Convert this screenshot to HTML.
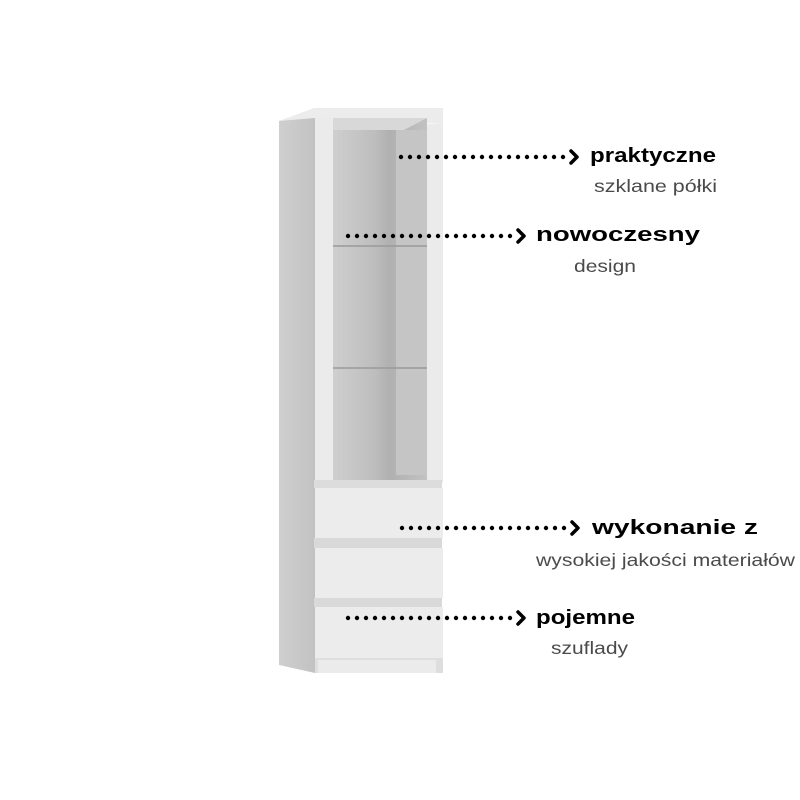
<!DOCTYPE html>
<html><head><meta charset="utf-8"><style>
html,body{margin:0;padding:0;background:#fff;width:800px;height:800px;overflow:hidden}
</style></head><body>
<svg width="800" height="800" viewBox="0 0 800 800" xmlns="http://www.w3.org/2000/svg">
<defs>
<linearGradient id="side" x1="0" x2="1" y1="0" y2="0"><stop offset="0" stop-color="#cfcfcf"/><stop offset="1" stop-color="#c2c2c2"/></linearGradient>
<linearGradient id="inner" x1="0" x2="1" y1="0" y2="0"><stop offset="0" stop-color="#cfcfcf"/><stop offset="0.45" stop-color="#bdbdbd"/><stop offset="0.6" stop-color="#b0b0b0"/><stop offset="1" stop-color="#c2c2c2"/></linearGradient>
</defs>
<rect width="800" height="800" fill="#fff"/>
<polygon points="279,121 315,110 315,673 279,665" fill="url(#side)"/>
<polygon points="279,121 314,108 443,108 443,124 315,118" fill="#ececec"/>
<rect x="333" y="118" width="94" height="362" fill="url(#inner)"/>
<polygon points="333,118 427,118 404,130 333,130" fill="#d8d8d8"/>
<rect x="396" y="130" width="31" height="345" fill="#c5c5c5"/>
<line x1="333" y1="246" x2="427" y2="246" stroke="#9a9a9a" stroke-width="1.5"/>
<line x1="333" y1="368" x2="427" y2="368" stroke="#9a9a9a" stroke-width="1.5"/>
<rect x="315" y="117" width="18" height="366" fill="#ebebeb"/>
<rect x="427" y="124" width="16" height="359" fill="#ebebeb"/>
<rect x="314" y="480" width="128" height="8" fill="#dcdcdc"/>
<rect x="315" y="488" width="128" height="50" fill="#ececec"/>
<rect x="314" y="538" width="128" height="10" fill="#d9d9d9"/>
<rect x="315" y="548" width="128" height="50" fill="#ececec"/>
<rect x="314" y="598" width="128" height="9" fill="#d9d9d9"/>
<rect x="315" y="607" width="128" height="51" fill="#ececec"/>
<rect x="315" y="658" width="128" height="15" fill="#dedede"/>
<rect x="318" y="660" width="118" height="13" fill="#ebebeb"/>
<g stroke="#000" stroke-width="4.4" stroke-linecap="round" fill="none">
<line x1="401" y1="157" x2="565" y2="157" stroke-dasharray="0 9"/>
<line x1="348" y1="236" x2="512" y2="236" stroke-dasharray="0 9"/>
<line x1="402" y1="528" x2="566" y2="528" stroke-dasharray="0 9"/>
<line x1="348" y1="618" x2="512" y2="618" stroke-dasharray="0 9"/>
</g>
<g stroke="#000" stroke-width="3.5" stroke-linecap="round" stroke-linejoin="round" fill="none">
<polyline points="571,151 577,157 571,163"/>
<polyline points="518,230 524,236 518,242"/>
<polyline points="572,522 578,528 572,534"/>
<polyline points="518,612 524,618 518,624"/>
</g>
<g font-family="'Liberation Sans', sans-serif">
<text x="590" y="162" font-size="20" font-weight="bold" textLength="126" lengthAdjust="spacingAndGlyphs">praktyczne</text>
<text x="594" y="192" font-size="17.5" fill="#4a4a4a" textLength="123" lengthAdjust="spacingAndGlyphs">szklane półki</text>
<text x="536" y="241" font-size="20" font-weight="bold" textLength="164" lengthAdjust="spacingAndGlyphs">nowoczesny</text>
<text x="574" y="272" font-size="17.5" fill="#4a4a4a" textLength="62" lengthAdjust="spacingAndGlyphs">design</text>
<text x="592" y="534" font-size="20" font-weight="bold" textLength="166" lengthAdjust="spacingAndGlyphs">wykonanie z</text>
<text x="536" y="566" font-size="17.5" fill="#4a4a4a" textLength="259" lengthAdjust="spacingAndGlyphs">wysokiej jakości materiałów</text>
<text x="536" y="624" font-size="20" font-weight="bold" textLength="99" lengthAdjust="spacingAndGlyphs">pojemne</text>
<text x="551" y="654" font-size="17.5" fill="#4a4a4a" textLength="77" lengthAdjust="spacingAndGlyphs">szuflady</text>
</g>
</svg>
</body></html>
